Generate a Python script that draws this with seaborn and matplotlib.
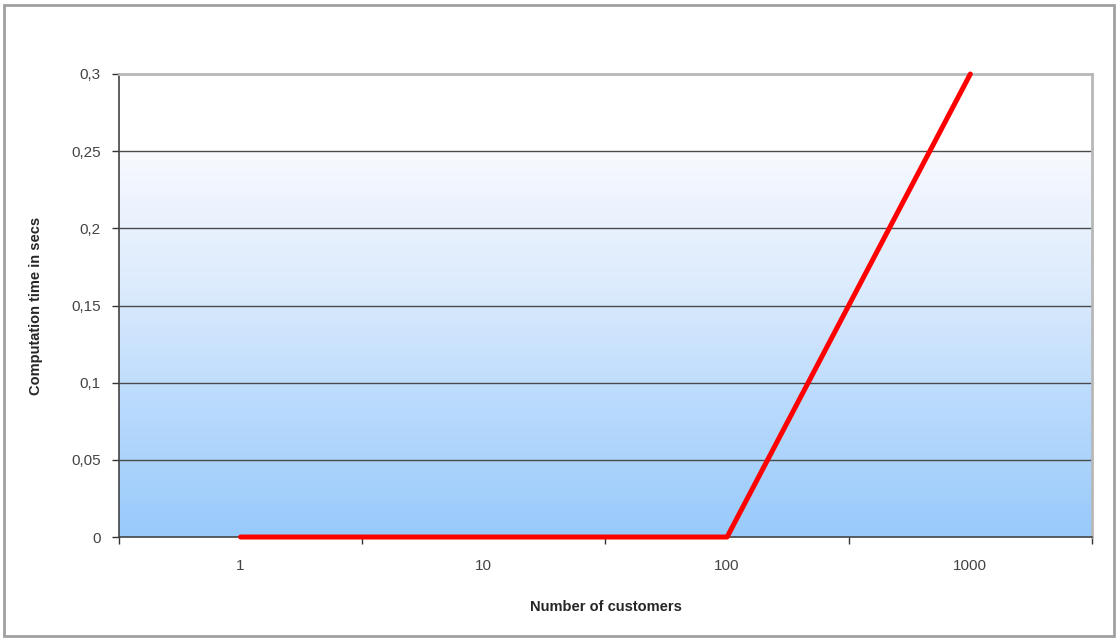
import matplotlib
matplotlib.use('Agg')

import numpy as np
import pandas as pd
import matplotlib.pyplot as plt
import seaborn as sns
from matplotlib.ticker import FuncFormatter, FixedLocator, NullFormatter
from matplotlib.colors import LinearSegmentedColormap
from matplotlib.patches import Rectangle

# data
customers = ['1', '10', '100', '1000']
comp_time = [0.0, 0.0, 0.0, 0.3]

df = pd.DataFrame({'customers': customers, 'time': comp_time})

sns.set_style('white')
plt.rcParams['font.family'] = ['Liberation Sans', 'DejaVu Sans']

fig = plt.figure(figsize=(11.18, 6.39), dpi=100)
ax = fig.add_axes([0.1064, 0.1596, 0.8703, 0.7246])

# Excel-like gradient fill (blue at bottom, fading up to 0,25), white top band
cmap = LinearSegmentedColormap.from_list(
    'xl', [(0.0, '#f8f9ff'), (0.35, '#dcebfd'), (0.7, '#b5d8fc'), (1.0, '#98cafb')])
grad = np.linspace(1, 0, 256).reshape(-1, 1)
ax.imshow(grad, cmap=cmap, aspect='auto', extent=(-0.5, 3.5, 0.0, 0.25),
          origin='lower', zorder=0)

for v in np.arange(0.05, 0.30, 0.05):
    ax.axhline(v, color='#4a4a4a', lw=1.0, zorder=1)

sns.lineplot(data=df, x='customers', y='time', color='#ff0000', lw=3.6,
             ax=ax, zorder=3, clip_on=False)

ax.set_xlim(-0.5, 3.5)
ax.set_ylim(0, 0.3)

ax.set_yticks(np.arange(0, 0.301, 0.05))
ax.yaxis.set_major_formatter(FuncFormatter(lambda v, p: f"{round(v, 2):g}".replace('.', ',')))
ax.set_xticks(range(len(customers)))
ax.set_xticklabels(customers)
ax.xaxis.set_minor_locator(FixedLocator([-0.5, 0.5, 1.5, 2.5, 3.5]))
ax.xaxis.set_minor_formatter(NullFormatter())

ax.tick_params(axis='x', which='major', length=0, pad=16, labelsize=11, labelcolor='#444444')
ax.tick_params(axis='x', which='minor', length=5, width=1, color='#333333', direction='out', bottom=True)
ax.tick_params(axis='y', which='major', length=5, width=1, color='#333333', direction='out',
               left=True, pad=8, labelsize=11, labelcolor='#444444')

for side in ['left', 'bottom']:
    ax.spines[side].set_color('#444444')
    ax.spines[side].set_linewidth(1.2)
for side in ['top', 'right']:
    ax.spines[side].set_color('#b8b8b8')
    ax.spines[side].set_linewidth(2.0)

ax.set_xlabel('Number of customers', fontsize=10.5, fontweight='bold', labelpad=19)
ax.set_ylabel('Computation time in secs', fontsize=10.5, fontweight='bold', labelpad=20)

# outer chart border
fig.patches.append(Rectangle((0.004, 0.004), 0.992, 0.988, transform=fig.transFigure,
                             fill=False, edgecolor='#a0a0a0', lw=2))

fig.savefig('out.png', dpi=100)
